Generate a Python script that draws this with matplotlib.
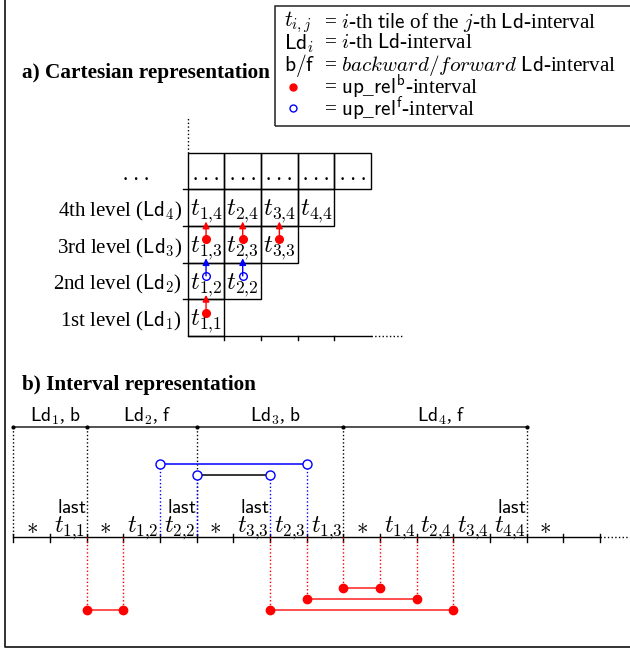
import matplotlib
matplotlib.use('Agg')
import matplotlib.pyplot as plt
from matplotlib.patches import Rectangle
from matplotlib.lines import Line2D

plt.rcParams['font.family'] = ['Liberation Serif', 'DejaVu Serif']
plt.rcParams['mathtext.fontset'] = 'cm'

# ---- a) cartesian representation ----
levels = [1, 2, 3, 4]
level_names = ['1st', '2nd', '3rd', '4th']
top_row_cells = 5
up_rel_b = [(1, 1), (1, 3), (2, 3), (3, 3)]   # (tile, level) -> red arrow up
up_rel_f = [(1, 2), (2, 2)]                   # blue arrow up

# ---- b) interval representation ----
segments = ['*', '1,1', '*', '1,2', '2,2', '*', '3,3', '2,3', '1,3',
            '*', '1,4', '2,4', '3,4', '4,4', '*', '']
last_tiles = ['1,1', '2,2', '3,3', '4,4']
ld_bounds = [0, 2, 5, 9, 14]
ld_dirs = ['b', 'f', 'b', 'f']
fwd_intervals = [(4, 8), (5, 7)]
fwd_depth = [0, 1]
bwd_intervals = [(2, 3), (7, 12), (8, 11), (9, 10)]
bwd_depth = [0, 0, 1, 2]

W, H = 630, 651
U = 36.67
FS = 15
FS_T = 18
RED = '#ff0000'
BLUE = '#0000ff'

fig = plt.figure(figsize=(W / 100, H / 100), dpi=100)


def unit_axes(ox, oy):
    ax = fig.add_axes([0, 0, 1, 1])
    ax.set_xlim(-ox / U, (W - ox) / U)
    ax.set_ylim(-(H - oy) / U, oy / U)
    ax.set_axis_off()
    return ax


def ftext(x, y, s, **kw):
    fig.text(x / W, 1 - y / H, s, **kw)


def tij(s):
    i, j = s.split(',')
    return r'$t_{%s{,}%s}$' % (i, j)


# outer frame and legend box
fig.add_artist(Line2D([4.5 / W, 4.5 / W, 1.01], [1.01, 1 - 647 / H, 1 - 647 / H],
                      transform=fig.transFigure, color='#222222', lw=1.3))
fig.add_artist(Rectangle((275 / W, 1 - 126 / H), (W - 265) / W, 120 / H,
                         transform=fig.transFigure, fill=False, ec='#222222', lw=1.1))

legend_rows = [
    (r'$t_{i,j}$', r'= $i$-th $\mathsf{tile}$ of the $j$-th $\mathsf{Ld}$-interval'),
    (r'$\mathsf{Ld}_i$', r'= $i$-th $\mathsf{Ld}$-interval'),
    (r'$\mathsf{b/f}$', r'= $backward/forward$ $\mathsf{Ld}$-interval'),
    ('red', r'= $\mathsf{up}$_$\mathsf{rel}^{\mathsf{b}}$-interval'),
    ('blue', r'= $\mathsf{up}$_$\mathsf{rel}^{\mathsf{f}}$-interval'),
]
for n, (sym, desc) in enumerate(legend_rows):
    y = 22.5 + n * 21.4
    if sym == 'red':
        fig.add_artist(Line2D([292.7 / W], [1 - y / H], transform=fig.transFigure,
                              marker='o', ms=5, color=RED, ls='none'))
    elif sym == 'blue':
        fig.add_artist(Line2D([292.7 / W], [1 - y / H], transform=fig.transFigure,
                              marker='o', ms=5, mfc='none', mec=BLUE, mew=1, ls='none'))
    else:
        ftext(284, y, sym, fontsize=FS + 0.5, va='center')
    ftext(324, y, desc, fontsize=FS + 0.2, va='center')

ftext(22, 73, 'a) Cartesian representation', fontsize=FS + 0.35, fontweight='bold', va='center')
ftext(22, 385, 'b) Interval representation', fontsize=FS + 0.35, fontweight='bold', va='center')

# ---------- a) grid ----------
ax = unit_axes(187.7, 336)
for j in levels:
    for i in range(1, j + 1):
        ax.add_patch(Rectangle((i - 1, j - 1), 1, 1, fill=False, ec='black', lw=1))
        ax.text(i - 0.5, j - 0.6, tij('%d,%d' % (i, j)), fontsize=FS_T,
                ha='center', va='center')
    ax.plot([-0.12, 0], [j, j], color='black', lw=1)
    ax.text(-0.15, j - 0.6, r'%s level ($\mathsf{Ld}_{%d}$)' % (level_names[j - 1], j),
            fontsize=FS, ha='right', va='center')
for i in range(1, top_row_cells + 1):
    ax.add_patch(Rectangle((i - 1, len(levels)), 1, 1, fill=False, ec='black', lw=1))
    ax.text(i - 0.5, len(levels) + 0.25, '. . .', fontsize=FS, ha='center', va='baseline')
ax.text(-1.4, len(levels) + 0.25, '. . .', fontsize=FS, ha='center', va='baseline')

ax.plot([0, top_row_cells], [0, 0], color='black', lw=1)
ax.plot([top_row_cells, top_row_cells + 0.9], [0, 0], color='black', lw=1, ls=':')
ax.plot([0, 0], [len(levels) + 1, len(levels) + 1.95], color='black', lw=1, ls=':')
for i in range(1, len(levels) + 1):
    ax.plot([i, i], [0, -0.11], color='black', lw=1)

for arrows, col, filled in [(up_rel_b, RED, True), (up_rel_f, BLUE, False)]:
    for i, j in arrows:
        x = i - 0.5
        ax.annotate('', xy=(x, j + 0.12), xytext=(x, j - 0.36),
                    arrowprops=dict(arrowstyle='-|>', color=col, lw=1,
                                    mutation_scale=10, shrinkA=0, shrinkB=0))
        ax.plot([x], [j - 0.36], marker='o', ms=5.5, ls='none',
                mfc=col if filled else 'white', mec=col, mew=1)

# ---------- b) intervals ----------
bx = unit_axes(13.3, 537)
n_seg = len(segments)
bx.plot([0, n_seg], [0, 0], color='black', lw=1)
bx.plot([n_seg, n_seg + 0.9], [0, 0], color='black', lw=1, ls=':')
for k in range(n_seg + 1):
    bx.plot([k, k], [-0.13, 0.08], color='black', lw=1)
for k, seg in enumerate(segments):
    if seg == '*':
        bx.text(k + 0.5, 0.27, r'$\ast$', fontsize=FS + 1.5, ha='center', va='center')
    elif seg:
        bx.text(k + 0.54, 0.25, tij(seg), fontsize=FS_T - 0.5, ha='center', va='center')
        if seg in last_tiles:
            bx.text(k + 1, 0.8, r'$\mathsf{last}$', fontsize=FS - 1, ha='right', va='center')

bx.plot([ld_bounds[0], ld_bounds[-1]], [3, 3], color='#333333', lw=1.2)
for b in ld_bounds:
    bx.plot([b, b], [3, 0], color='black', lw=1, ls=':')
    bx.plot([b], [3], marker='o', ms=2, color='black')
for n, d in enumerate(ld_dirs):
    xm = (ld_bounds[n] + ld_bounds[n + 1]) / 2 + 0.15
    bx.text(xm, 3.3, r'$\mathsf{Ld}_{%d}$, $\mathsf{%s}$' % (n + 1, d), fontsize=FS - 1,
            ha='center', va='center')

for (a, b), d in zip(fwd_intervals, fwd_depth):
    y = 2.0 - 0.3 * d
    for x in (a, b):
        bx.plot([x, x], [y, 0], color=BLUE, lw=1, ls=':')
    bx.plot([a, b], [y, y], color=BLUE if d == 0 else 'black', lw=1.1)
    bx.plot([a, b], [y, y], ls='none', marker='o', ms=6.5, mfc='white', mec=BLUE, mew=1)

for (a, b), d in zip(bwd_intervals, bwd_depth):
    y = -2.0 + 0.3 * d
    for x in (a, b):
        bx.plot([x, x], [0, y], color=RED, lw=1, ls=':')
    bx.plot([a, b], [y, y], color='#ff4040', lw=1.3)
    bx.plot([a, b], [y, y], ls='none', marker='o', ms=6, color=RED)

fig.savefig('out.png', dpi=100)
